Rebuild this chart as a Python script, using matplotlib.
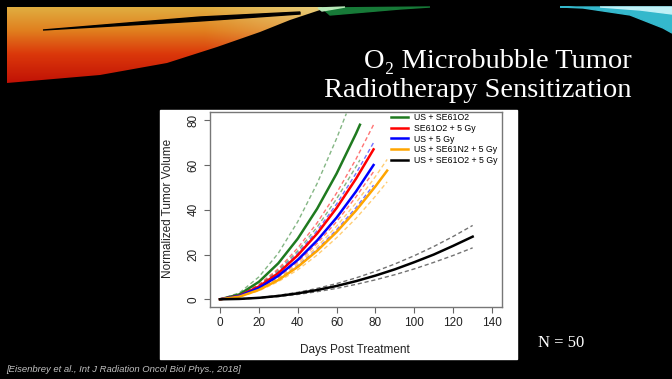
import numpy as np
import matplotlib.pyplot as plt
from matplotlib.patches import Polygon, Rectangle

# datos (dias, volumen tumoral normalizado)
dias_a = [0, 10, 20, 30, 40, 50, 60, 70, 72]
dias_a_sup = [0, 10, 20, 30, 40, 50, 60, 65]
dias_b = [0, 10, 20, 30, 40, 50, 60, 70, 79]
dias_c = [0, 10, 20, 30, 40, 50, 60, 70, 80, 86]
dias_d = [0, 10, 20, 30, 40, 50, 60, 70, 80, 90, 100, 110, 120, 130]

verde = [0, 2.2, 7.8, 16.1, 27.1, 40.5, 56.2, 74.1, 78]
verde_sup = [0, 2.9, 10.0, 20.6, 34.7, 51.8, 71.9, 83]
verde_inf = [0, 1.8, 6.2, 12.9, 21.6, 32.3, 44.9, 59.3, 62.3]

rojo = [0, 1.6, 5.7, 11.7, 19.7, 29.4, 40.8, 53.9, 67]
rojo_sup = [0, 1.9, 6.6, 13.6, 22.9, 34.2, 47.5, 62.7, 78]
rojo_inf = [0, 1.4, 4.8, 10.0, 16.7, 25.0, 34.7, 45.8, 57]

azul = [0, 1.5, 5.1, 10.5, 17.6, 26.3, 36.5, 48.2, 60]
azul_sup = [0, 1.7, 5.9, 12.2, 20.6, 30.7, 42.6, 56.3, 70]
azul_inf = [0, 1.2, 4.3, 8.9, 15.0, 22.4, 31.1, 41.0, 51]

naranja = [0, 1.2, 4.2, 8.6, 14.5, 21.7, 30.1, 39.7, 50.5, 57.5]
naranja_sup = [0, 1.3, 4.5, 9.4, 15.8, 23.5, 32.7, 43.1, 54.9, 62.5]
naranja_inf = [0, 1.1, 3.8, 7.9, 13.2, 19.8, 27.5, 36.2, 46.1, 52.5]

negro = [0, 0.17, 0.66, 1.49, 2.65, 4.14, 5.96, 8.12, 10.6, 13.4, 16.6, 20.0, 23.9, 28]
negro_sup = [0, 0.2, 0.78, 1.76, 3.12, 4.88, 7.03, 9.57, 12.5, 15.8, 19.5, 23.6, 28.1, 33]
negro_inf = [0, 0.14, 0.54, 1.22, 2.18, 3.40, 4.89, 6.67, 8.71, 11.0, 13.6, 16.5, 19.6, 23]

etiquetas = ["US + SE61O2", "SE61O2 + 5 Gy", "US + 5 Gy",
             "US + SE61N2 + 5 Gy", "US + SE61O2 + 5 Gy"]
colores = ["#1f7a1f", "#ff0000", "#0000ff", "#ffa500", "#000000"]

fig = plt.figure(figsize=(6.72, 3.79), dpi=100, facecolor="black")

# fondo de la diapositiva (coordenadas en pixeles)
bg = fig.add_axes([0, 0, 1, 1])
bg.set_xlim(0, 672)
bg.set_ylim(379, 0)
bg.axis("off")
bg.set_facecolor("black")

# franja calida arriba a la izquierda
ny, nx = 80, 330
yy = np.linspace(0, 1, ny)[:, None] * np.ones((1, nx))
xx = np.ones((ny, 1)) * np.linspace(0, 1, nx)[None, :]
stops = [0, 0.3, 0.6, 1]
img = np.zeros((ny, nx, 3))
for k, ch in enumerate([(0.88, 0.88, 0.86, 0.75), (0.68, 0.50, 0.22, 0.06), (0.25, 0.12, 0.04, 0.02)]):
    img[:, :, k] = np.interp(yy, stops, ch)
w = np.clip((xx - 0.6) / 0.4, 0, 1) * 0.7 * (1 - yy)
img = img * (1 - w[:, :, None]) + np.array([0.93, 0.88, 0.62]) * w[:, :, None]
borde = [(7, 7), (335, 7), (320, 10), (290, 20), (260, 32), (217, 47),
         (167, 63), (100, 75), (7, 83)]
clip = Polygon(borde, closed=True, transform=bg.transData)
im = bg.imshow(img, extent=(7, 337, 85, 7), aspect="auto", zorder=1)
im.set_clip_path(clip)
bg.add_patch(Polygon([(43, 30), (200, 17), (300, 12), (300, 14), (200, 21)],
                     color="black", zorder=2))
# franjas verde y cian
bg.add_patch(Polygon([(322, 8), (430, 7), (400, 9), (330, 15)], color="#177a38", zorder=2))
bg.add_patch(Polygon([(318, 8), (345, 7), (322, 11)], color="#b8e8b8", zorder=3))
bg.add_patch(Polygon([(560, 7), (672, 7), (672, 33), (663, 28), (630, 15), (583, 8)],
                     color="#34b8cc", zorder=2))
bg.add_patch(Polygon([(600, 7), (672, 7), (672, 14), (640, 10)], color="#c0f0f6", zorder=3))

# recuadro blanco de la figura
bg.add_patch(Rectangle((160, 110), 357, 249, color="white", zorder=1))

# titulo y textos
bg.text(632, 68, "O\u2082 Microbubble Tumor", color="white", ha="right", va="baseline",
        fontsize=20.5, family=["Liberation Serif", "DejaVu Serif"])
bg.text(632, 97, "Radiotherapy Sensitization", color="white", ha="right", va="baseline",
        fontsize=20.5, family=["Liberation Serif", "DejaVu Serif"])
bg.text(538, 343, "N = 50", color="white", ha="left", va="center",
        fontsize=12, family="Liberation Serif")
bg.text(6, 369, "[Eisenbrey et al., Int J Radiation Oncol Biol Phys., 2018]",
        color="#c0c0c0", ha="left", va="center", fontsize=6.8, style="italic",
        family="Liberation Sans")
bg.text(355, 350, "Days Post Treatment", color="#222222", ha="center", va="center",
        fontsize=8.5, family="Liberation Sans")
bg.text(168, 208, "Normalized Tumor Volume", color="#222222", ha="center", va="center",
        rotation=90, fontsize=8.5, family="Liberation Sans")

# grafica
ax = fig.add_axes([210 / 672, 1 - 307 / 379, 292 / 672, 195 / 379])
ax.set_facecolor("white")

grupos = [
    (dias_a, verde, dias_a_sup, verde_sup, dias_a, verde_inf),
    (dias_b, rojo, dias_b, rojo_sup, dias_b, rojo_inf),
    (dias_b, azul, dias_b, azul_sup, dias_b, azul_inf),
    (dias_c, naranja, dias_c, naranja_sup, dias_c, naranja_inf),
    (dias_d, negro, dias_d, negro_sup, dias_d, negro_inf),
]

# bandas discontinuas
for (x, y, xs, ys, xi, yi), c in zip(grupos, colores):
    ax.plot(xs, ys, color=c, lw=1.0, ls=(0, (3, 2)), alpha=0.55)
    ax.plot(xi, yi, color=c, lw=1.0, ls=(0, (3, 2)), alpha=0.55)

# curvas medias
for (x, y, xs, ys, xi, yi), c, lab in zip(grupos, colores, etiquetas):
    ax.plot(x, y, color=c, lw=1.8, label=lab)

ax.set_xlim(-5.15, 145.1)
ax.set_ylim(-3.44, 83.7)
ax.set_xticks(range(0, 141, 20))
ax.set_yticks(range(0, 81, 20))
ax.tick_params(colors="#666666", labelcolor="#222222", labelsize=8.5, length=4, width=0.8)
plt.setp(ax.get_yticklabels(), rotation=90, va="center")
for lab in ax.get_xticklabels() + ax.get_yticklabels():
    lab.set_family("Liberation Sans")
for s in ax.spines.values():
    s.set_color("#777777")
    s.set_linewidth(1.0)

ax.legend(loc="upper left", bbox_to_anchor=(391 / 672, 1 - 113 / 379),
          bbox_transform=fig.transFigure, frameon=False,
          handlelength=1.9, handletextpad=0.7, labelspacing=0.2,
          borderpad=0, borderaxespad=0, prop={"family": "Liberation Sans", "size": 6.3})

plt.savefig("out.png", dpi=100, facecolor="black")
